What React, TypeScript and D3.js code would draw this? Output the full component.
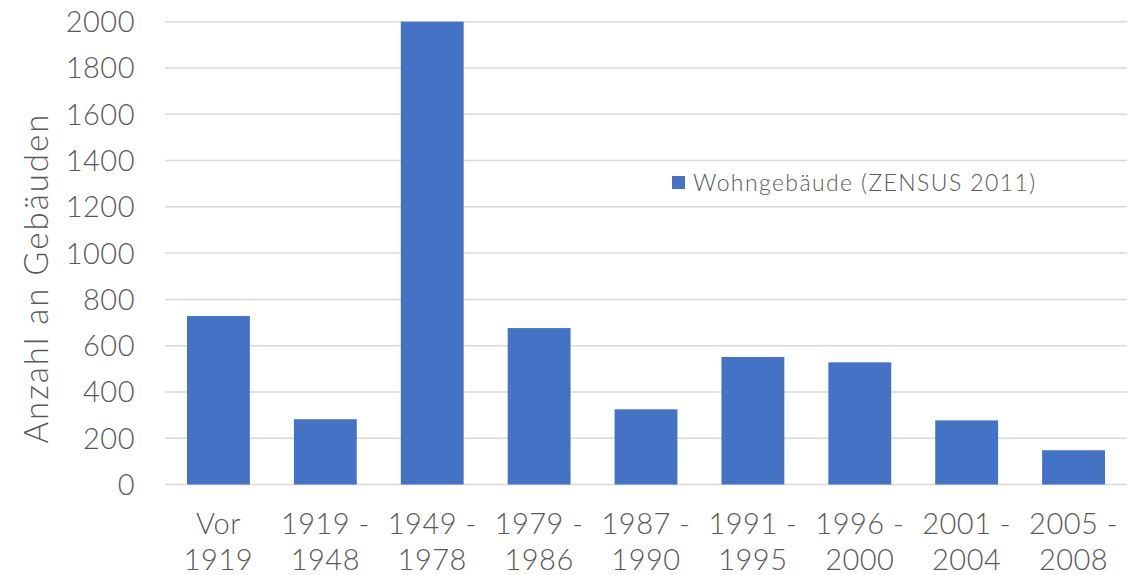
import React, { useRef, useEffect } from "react"
import * as d3 from "d3"

const categories = [
  ["Vor", "1919"],
  ["1919 -", "1948"],
  ["1949 -", "1978"],
  ["1979 -", "1986"],
  ["1987 -", "1990"],
  ["1991 -", "1995"],
  ["1996 -", "2000"],
  ["2001 -", "2004"],
  ["2005 -", "2008"],
]
const values = [728, 282, 2000, 676, 325, 551, 528, 277, 148]
const yTicks = [0, 200, 400, 600, 800, 1000, 1200, 1400, 1600, 1800, 2000]
const seriesName = "Wohngebäude (ZENSUS 2011)"
const yTitle = "Anzahl an Gebäuden"

const W = 1145
const H = 575
const margin = { top: 21.7, right: 18, bottom: 90.5, left: 165 }
const font = "Lato, 'Open Sans', sans-serif"
const textColor = "#595959"
const barColor = "#4472C4"

export default function App() {
  const ref = useRef<SVGSVGElement>(null)

  useEffect(() => {
    const svg = d3.select(ref.current)
    svg.selectAll("*").remove()

    const width = W - margin.left - margin.right
    const height = H - margin.top - margin.bottom
    const keys = categories.map(c => c.join(" "))

    const x = d3
      .scaleBand()
      .domain(keys)
      .range([0, width])
      .paddingInner(0.7 / 1.7)
      .paddingOuter(0.35 / 1.7)

    const y = d3.scaleLinear().domain([0, 2000]).range([height, 0])

    const g = svg
      .append("g")
      .attr("transform", `translate(${margin.left}, ${margin.top})`)

    // gridlines
    g.selectAll("line.grid")
      .data(yTicks)
      .join("line")
      .attr("class", "grid")
      .attr("x1", 0)
      .attr("x2", width)
      .attr("y1", d => y(d))
      .attr("y2", d => y(d))
      .attr("stroke", "#d9d9d9")
      .attr("stroke-width", 1.5)

    // y tick labels
    g.selectAll("text.ytick")
      .data(yTicks)
      .join("text")
      .attr("class", "ytick")
      .attr("x", -30)
      .attr("y", d => y(d))
      .attr("dy", "0.36em")
      .attr("text-anchor", "end")
      .style("font-family", font)
      .style("font-weight", 300)
      .style("font-size", "29px")
      .style("letter-spacing", "0.5px")
      .attr("fill", textColor)
      .text(d => d)

    // bars
    g.selectAll("rect.bar")
      .data(values)
      .join("rect")
      .attr("class", "bar")
      .attr("x", (d, i) => x(keys[i]))
      .attr("y", d => y(d))
      .attr("width", x.bandwidth())
      .attr("height", d => height - y(d))
      .attr("fill", barColor)

    // x labels (2 lines, second one runs into the bottom edge like the original)
    const xl = g
      .selectAll("text.xlab")
      .data(categories)
      .join("text")
      .attr("class", "xlab")
      .attr("x", d => x(d.join(" ")) + x.bandwidth() / 2)
      .attr("y", height + 50)
      .attr("text-anchor", "middle")
      .style("font-family", font)
      .style("font-weight", 300)
      .style("font-size", "29px")
      .style("letter-spacing", "0.5px")
      .attr("fill", textColor)
    xl.append("tspan")
      .attr("x", d => x(d.join(" ")) + x.bandwidth() / 2)
      .text(d => d[0])
    xl.append("tspan")
      .attr("x", d => x(d.join(" ")) + x.bandwidth() / 2)
      .attr("dy", 36)
      .text(d => d[1])

    // y title
    svg
      .append("text")
      .attr("transform", `translate(48, ${margin.top + height / 2 + 25}) rotate(-90)`)
      .attr("text-anchor", "middle")
      .style("font-family", font)
      .style("font-weight", 300)
      .style("font-size", "33px")
      .style("letter-spacing", "2px")
      .attr("fill", textColor)
      .text(yTitle)

    // legend
    const lg = svg.append("g").attr("transform", "translate(672, 176)")
    lg.append("rect")
      .attr("width", 13)
      .attr("height", 13)
      .attr("fill", barColor)
    lg.append("text")
      .attr("x", 21)
      .attr("y", 6.5)
      .attr("dy", "0.36em")
      .style("font-family", font)
      .style("font-weight", 300)
      .style("font-size", "23px")
      .style("letter-spacing", "1.4px")
      .attr("fill", textColor)
      .text(seriesName)
  }, [])

  return (
    <div style={{ position: "absolute", left: 0, top: 0 }}>
      <svg ref={ref} width={W} height={H} style={{ display: "block", background: "#fff" }}></svg>
    </div>
  )
}
